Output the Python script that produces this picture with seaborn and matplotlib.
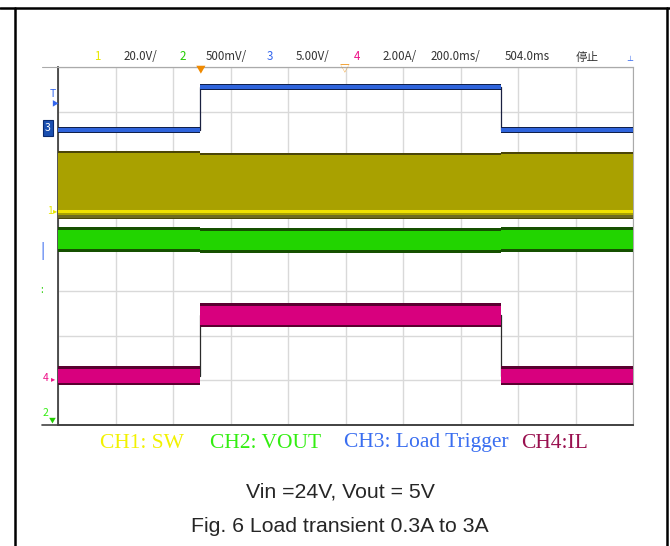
import matplotlib
matplotlib.use('Agg')
import matplotlib.pyplot as plt
import seaborn as sns
import pandas as pd

# 1. Данные осциллограммы (время в мс, уровни в делениях экрана, 0 = низ)

t_ms = [0, 495, 1540, 2000]
ch1_top = [6.12, 6.08, 6.10, 6.10]
ch1_bot = [4.60, 4.60, 4.60, 4.60]
ch1_line = [4.79, 4.79, 4.79, 4.79]
ch2_top = [4.42, 4.40, 4.42, 4.42]
ch2_bot = [3.87, 3.85, 3.87, 3.87]
ch3_lvl = [6.59, 7.55, 6.59, 6.59]
ch4_top = [1.32, 2.73, 1.32, 1.32]
ch4_bot = [0.89, 2.19, 0.89, 0.89]

header_labels = ['1', '20.0V/', '2', '500mV/', '3', '5.00V/', '4', '2.00A/',
                 '200.0ms/', '504.0ms', '停止']
header_x = [97, 140, 183, 226, 270, 313, 357, 400, 455, 527, 587]
header_colors = ['#e8e800', '#333333', '#22cc00', '#333333', '#3366ee', '#333333',
                 '#ee1188', '#333333', '#333333', '#333333', '#333333']

legend_labels = ['CH1: SW', 'CH2: VOUT', 'CH3: Load Trigger', 'CH4:IL']
legend_x = [100, 210, 344, 521]
legend_colors = ['#f2f200', '#33ee11', '#3a6ef0', '#99104f']

df = pd.DataFrame({'t': t_ms, 'ch3': ch3_lvl,
                   'ch4': [(a + b) / 2 for a, b in zip(ch4_top, ch4_bot)],
                   'ch1': ch1_line})

W, H = 670, 546


def fx(px):
    return px / W


def fy(py):
    return 1 - py / H


# 2. Фигура и область экрана осциллографа

sns.set_style('white')
plt.rcParams['font.family'] = ['Noto Sans CJK SC', 'DejaVu Sans']
fig = plt.figure(figsize=(6.70, 5.46), dpi=100)
ax = fig.add_axes([fx(58), fy(425), fx(633) - fx(58), fy(67) - fy(425)])
ax.set_xlim(0, 2000)
ax.set_ylim(0, 8)
ax.set_xticks(range(0, 2001, 200))
ax.set_yticks(range(0, 9))
ax.grid(True, color='#d9d9d9', linewidth=1.0)
ax.tick_params(length=0, labelbottom=False, labelleft=False)
for side in ['top', 'right']:
    ax.spines[side].set_color('#aaaaaa')
    ax.spines[side].set_linewidth(0.8)
for side in ['left', 'bottom']:
    ax.spines[side].set_color('#333333')
    ax.spines[side].set_linewidth(1.2)

# CH1 - полоса переключения
ax.fill_between(t_ms, ch1_bot, ch1_top, step='post', color='#4a4508', lw=0, zorder=3)
ax.fill_between(t_ms, [v + 0.1 for v in ch1_bot], [v - 0.05 for v in ch1_top],
                step='post', color='#a9a100', lw=0, zorder=3)
ax.fill_between(t_ms, [v + 0.03 for v in ch1_bot], [v + 0.1 for v in ch1_bot],
                step='post', color='#6e6a20', lw=0, zorder=3)
sns.lineplot(data=df, x='t', y='ch1', ax=ax, color='#f0e000', linewidth=2.2,
             drawstyle='steps-post', zorder=4)

# CH2 - выходное напряжение
ax.fill_between(t_ms, ch2_bot, ch2_top, step='post', color='#155000', lw=0, zorder=3)
ax.fill_between(t_ms, [v + 0.07 for v in ch2_bot], [v - 0.07 for v in ch2_top],
                step='post', color='#22d400', lw=0, zorder=3)

# CH4 - ток дросселя
sns.lineplot(data=df, x='t', y='ch4', ax=ax, color='#2a2a2a', linewidth=0.9,
             drawstyle='steps-post', zorder=3)
ax.fill_between(t_ms, ch4_bot, ch4_top, step='post', color='#5a0030', lw=0, zorder=3)
ax.fill_between(t_ms, [v + 0.05 for v in ch4_bot], [v - 0.06 for v in ch4_top],
                step='post', color='#d8007e', lw=0, zorder=3)

# CH3 - сигнал нагрузки
sns.lineplot(data=df, x='t', y='ch3', ax=ax, color='#1a2040', linewidth=0.9,
             drawstyle='steps-post', zorder=4)
ax.fill_between(t_ms, [v - 0.075 for v in ch3_lvl], [v + 0.075 for v in ch3_lvl],
                step='post', color='#10204a', lw=0, zorder=4)
ax.fill_between(t_ms, [v - 0.045 for v in ch3_lvl], [v + 0.045 for v in ch3_lvl],
                step='post', color='#2f64dc', lw=0, zorder=4)
ax.set_xlabel('')
ax.set_ylabel('')
if ax.get_legend():
    ax.get_legend().remove()

# 3. Заголовок осциллографа

for lab, x, c in zip(header_labels, header_x, header_colors):
    fig.text(fx(x), fy(57), lab, color=c, fontsize=8.3, ha='center', va='center')
fig.text(fx(630), fy(59), '⊥', color='#3366ee', fontsize=5, ha='center', va='center')
fig.add_artist(plt.Line2D([fx(42), fx(633)], [fy(67), fy(67)], color='#aaaaaa', lw=0.8))
fig.add_artist(plt.Line2D([fx(42), fx(633)], [fy(425), fy(425)], color='#444444', lw=1.2))
fig.text(fx(201), fy(69), '▼', color='#f08a00', fontsize=7, ha='center', va='center')
fig.text(fx(345), fy(69), '▽', color='#f08a00', fontsize=7, ha='center', va='center')

# маркеры каналов слева
fig.text(fx(53), fy(94), 'T', color='#3366ee', fontsize=7.5, ha='center', va='center')
fig.text(fx(55), fy(104), '▶', color='#3366ee', fontsize=5, ha='center', va='center')
fig.text(fx(48), fy(128), '3', color='white', fontsize=7.5, ha='center', va='center',
         bbox=dict(boxstyle='square,pad=0.25', fc='#1a4fb0', ec='#0a2a70', lw=0.8))
fig.text(fx(50), fy(211), '1', color='#e8e800', fontsize=7.5, ha='center', va='center')
fig.text(fx(55), fy(211), '▸', color='#e8e800', fontsize=6, ha='center', va='center')
fig.text(fx(42), fy(251), '|', color='#3366ee', fontsize=11, ha='center', va='center')
fig.text(fx(42), fy(290), ':', color='#22cc00', fontsize=7, ha='center', va='center')
fig.text(fx(46), fy(378), '4', color='#ee1188', fontsize=7.5, ha='center', va='center')
fig.text(fx(53), fy(379), '▸', color='#ee1188', fontsize=6, ha='center', va='center')
fig.text(fx(45), fy(413), '2', color='#33ee11', fontsize=7.5, ha='center', va='center')
fig.text(fx(52), fy(421), '▼', color='#22cc00', fontsize=5, ha='center', va='center')

# 4. Подписи каналов и рисунка

for lab, x, c in zip(legend_labels, legend_x, legend_colors):
    fig.text(fx(x), fy(443), lab, color=c, fontsize=15.5, ha='left', va='center',
             family=['Liberation Serif'])
fig.text(fx(340), fy(492), 'Vin =24V, Vout = 5V', fontsize=15.3, ha='center',
         va='center', family=['Liberation Sans'])
fig.text(fx(340), fy(527), 'Fig. 6 Load transient 0.3A to 3A', fontsize=15.3,
         ha='center', va='center', family=['Liberation Sans'])

# рамка страницы
fig.add_artist(plt.Line2D([0, 1], [fy(8), fy(8)], color='black', lw=1.8))
fig.add_artist(plt.Line2D([fx(15), fx(15)], [fy(8), 0], color='black', lw=1.8))
fig.add_artist(plt.Line2D([fx(667), fx(667)], [fy(8), 0], color='black', lw=1.8))

fig.savefig('out.png', dpi=100)
